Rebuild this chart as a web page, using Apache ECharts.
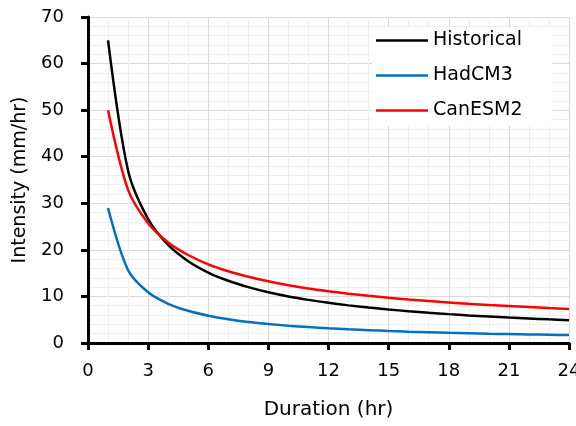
<!DOCTYPE html>
<html>
<head>
<meta charset="utf-8">
<script src="https://cdn.jsdelivr.net/npm/echarts@6/dist/echarts.min.js"></script>
<style>
  html, body { margin: 0; padding: 0; background: #fff; }
  #chart { width: 576px; height: 426px; }
</style>
</head>
<body>
<div id="chart"></div>
<script>
// duration in hours
var durations = [1, 2, 3, 4, 5, 6, 7, 8, 9, 10, 11, 12, 13, 14, 15, 16, 17, 18, 19, 20, 21, 22, 23, 24];

// intensity (mm/hr)
var historical = [65, 36.99, 26.6, 21.05, 17.56, 15.13, 13.36, 11.99, 10.89, 10.0, 9.26, 8.62, 8.08, 7.61, 7.19, 6.83, 6.50, 6.20, 5.93, 5.69, 5.47, 5.27, 5.08, 4.91];
var hadcm3 = [29, 15.63, 10.88, 8.42, 6.91, 5.86, 5.10, 4.52, 4.09, 3.71, 3.42, 3.16, 2.94, 2.76, 2.59, 2.44, 2.32, 2.20, 2.10, 2.00, 1.92, 1.84, 1.77, 1.70];
var canesm2 = [50, 32.88, 25.7, 21.6, 18.9, 16.9, 15.40, 14.22, 13.24, 12.41, 11.70, 11.12, 10.60, 10.13, 9.71, 9.34, 9.00, 8.70, 8.42, 8.16, 7.93, 7.71, 7.50, 7.31];

var seriesNames = ['Historical', 'HadCM3', 'CanESM2'];
var seriesColors = ['#000000', '#0070c0', '#ff0000'];

var pairs = function (values) {
  var out = [];
  for (var i = 0; i < durations.length; i++) {
    out.push([durations[i], values[i]]);
  }
  return out;
};

var makeSerie = function (name, values, color) {
  return {
    name: name,
    type: 'line',
    data: pairs(values),
    smooth: 0.3,
    showSymbol: false,
    lineStyle: { color: color, width: 2.5 },
    itemStyle: { color: color }
  };
};

var font = '"DejaVu Sans", sans-serif';
var chart = echarts.init(document.getElementById('chart'));

chart.setOption({
  animation: false,
  textStyle: { fontFamily: font },
  grid: { left: 88, right: 7, top: 17, bottom: 83, outerBoundsMode: 'none', containLabel: false },
  legend: {
    data: seriesNames,
    orient: 'vertical',
    left: 372,
    top: 27,
    itemWidth: 52,
    itemHeight: 12,
    itemGap: 16,
    padding: [4, 30, 6, 4],
    backgroundColor: '#ffffff',
    textStyle: { fontFamily: font, fontSize: 19, color: '#000' },
    icon: 'path://M0,0 L52,0 L52,2.5 L0,2.5 Z'
  },
  xAxis: {
    type: 'value',
    min: 0,
    max: 24,
    interval: 3,
    name: 'Duration (hr)',
    nameLocation: 'middle',
    nameGap: 57,
    nameTextStyle: { fontFamily: font, fontSize: 20, color: '#000' },
    axisLine: { show: true, onZero: false, lineStyle: { color: '#000', width: 3 } },
    axisTick: { show: true, inside: false, length: 7, lineStyle: { color: '#000', width: 3 } },
    axisLabel: { margin: 19, fontSize: 18, color: '#000', fontFamily: font },
    splitLine: { show: true, lineStyle: { color: '#d9d9d9', width: 1 } },
    minorTick: { show: false, splitNumber: 3 },
    minorSplitLine: { show: true, lineStyle: { color: '#efefef', width: 1 } }
  },
  yAxis: {
    type: 'value',
    min: 0,
    max: 70,
    interval: 10,
    name: 'Intensity (mm/hr)',
    nameLocation: 'middle',
    nameGap: 58,
    nameTextStyle: { fontFamily: font, fontSize: 19, color: '#000' },
    axisLine: { show: true, lineStyle: { color: '#000', width: 3 } },
    axisTick: { show: true, inside: false, length: 7, lineStyle: { color: '#000', width: 3 } },
    axisLabel: { margin: 24, fontSize: 18, color: '#000', fontFamily: font },
    splitLine: { show: true, lineStyle: { color: '#d9d9d9', width: 1 } },
    minorTick: { show: false, splitNumber: 5 },
    minorSplitLine: { show: true, lineStyle: { color: '#efefef', width: 1 } }
  },
  series: [
    makeSerie(seriesNames[0], historical, seriesColors[0]),
    makeSerie(seriesNames[1], hadcm3, seriesColors[1]),
    makeSerie(seriesNames[2], canesm2, seriesColors[2])
  ]
});
</script>
</body>
</html>
